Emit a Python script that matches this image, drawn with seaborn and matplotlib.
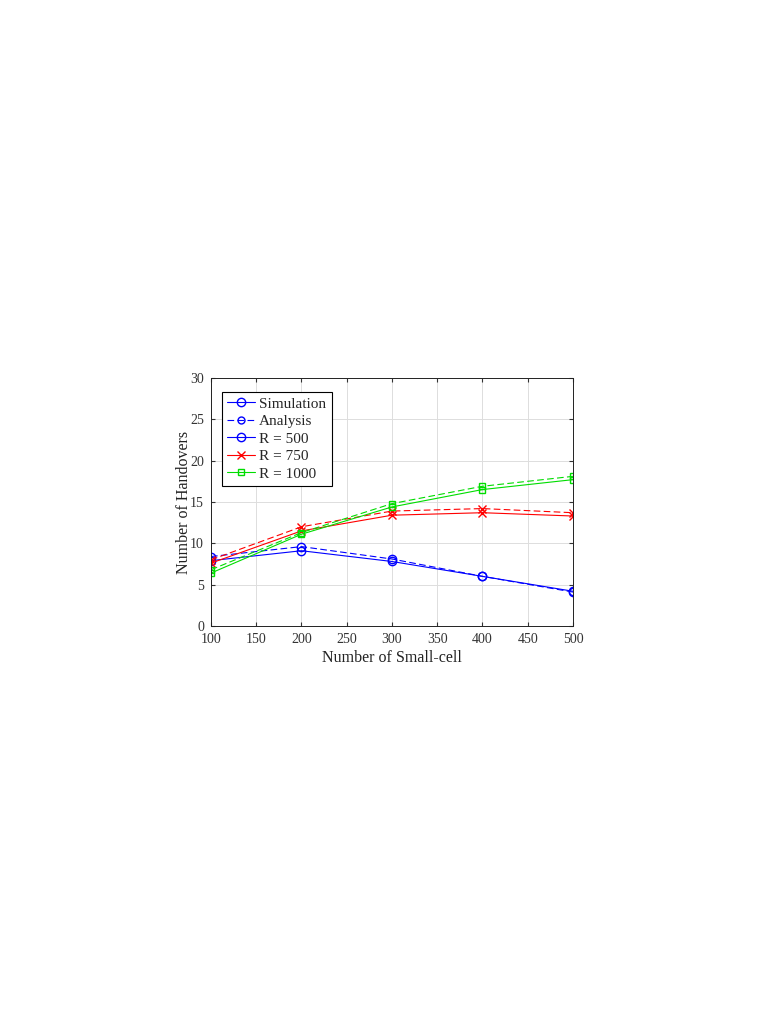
import numpy as np
import pandas as pd
import matplotlib
matplotlib.use("Agg")
import matplotlib.pyplot as plt
import seaborn as sns
from matplotlib.lines import Line2D

# data
small_cells = [100, 200, 300, 400, 500]
sim_500 = [7.9, 9.1, 7.8, 6.0, 4.2]
ana_500 = [8.4, 9.6, 8.1, 6.0, 4.1]
sim_750 = [7.6, 11.5, 13.4, 13.7, 13.3]
ana_750 = [8.0, 12.0, 13.9, 14.2, 13.7]
sim_1000 = [6.4, 11.1, 14.4, 16.5, 17.7]
ana_1000 = [6.8, 11.3, 14.8, 16.9, 18.1]

sns.set_style("ticks")
plt.rcParams['font.family'] = ['Liberation Serif', 'DejaVu Serif']

fig = plt.figure(figsize=(7.68, 10.24), dpi=100)
ax = fig.add_axes([0.2747, 0.3887, 0.4714, 0.2422])

dash = (0, (6, 3))
series = [
    (sim_500, "#0000ff", "o", "-"),
    (ana_500, "#0000ff", "o", dash),
    (sim_750, "#ff0000", "x", "-"),
    (ana_750, "#ff0000", "x", dash),
    (sim_1000, "#00dd00", "s", "-"),
    (ana_1000, "#00dd00", "s", dash),
]
for vals, col, mk, ls in series:
    df = pd.DataFrame({"n": small_cells, "h": vals})
    sns.lineplot(data=df, x="n", y="h", color=col, marker=mk, linestyle=ls,
                 linewidth=0.8, markersize=6 if mk != "s" else 5,
                 markerfacecolor="none" if mk != "x" else col,
                 markeredgecolor=col, markeredgewidth=1.0, ax=ax)

ax.set_xlim(100, 500)
ax.set_ylim(0, 30)
ax.set_xticks(np.arange(100, 501, 50))
ax.set_yticks(np.arange(0, 31, 5))
ax.grid(True, color="#dddddd", linewidth=0.7)
ax.tick_params(direction="in", length=3, labelsize=10, pad=5, top=True, right=True, colors="#333333")
for s in ax.spines.values():
    s.set_linewidth(0.7)
    s.set_color("#222222")
ax.set_xlabel("Number of Small-cell", fontsize=11.5, color="#222222", labelpad=3)
ax.set_ylabel("Number of Handovers", fontsize=11.5, color="#222222", labelpad=-1)

handles = [
    Line2D([], [], color="#0000ff", marker="o", linestyle="-", lw=0.8, ms=6, mfc="none"),
    Line2D([], [], color="#0000ff", marker="o", linestyle=dash, lw=0.8, ms=5, mfc="none"),
    Line2D([], [], color="#0000ff", marker="o", linestyle="-", lw=0.8, ms=6, mfc="none"),
    Line2D([], [], color="#ff0000", marker="x", linestyle="-", lw=0.8, ms=6),
    Line2D([], [], color="#00dd00", marker="s", linestyle="-", lw=0.8, ms=5, mfc="none"),
]
labels = ["Simulation", "Analysis", "R = 500", "R = 750", "R = 1000"]
leg = ax.legend(handles, labels, loc="upper left", bbox_to_anchor=(0.03, 0.945),
                borderaxespad=0, fontsize=11, fancybox=False, edgecolor="black",
                framealpha=1, handlelength=1.8, handletextpad=0.3, borderpad=0.35,
                labelspacing=0.25)
leg.get_frame().set_linewidth(0.8)

fig.savefig("out.png", dpi=100)
